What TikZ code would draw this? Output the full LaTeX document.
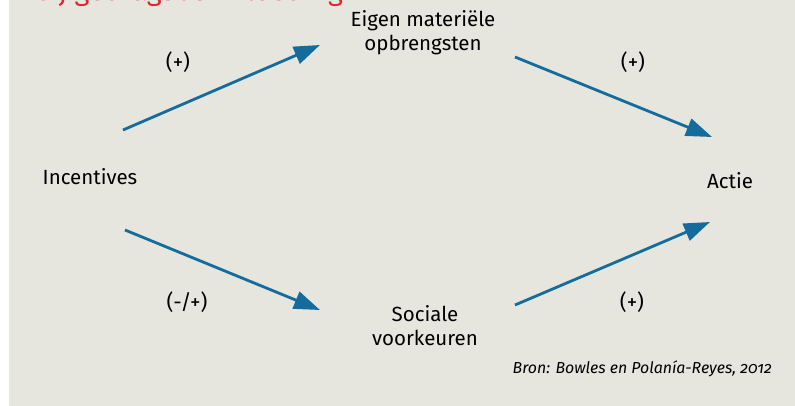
\documentclass[tikz,border=0pt]{standalone}
\usepackage{fontspec}
\setmainfont{Fira Sans}
\usetikzlibrary{arrows.meta}
\definecolor{paper}{RGB}{231,230,222}
\definecolor{flowblue}{RGB}{20,108,156}
\definecolor{titlered}{RGB}{228,35,52}
\begin{document}
\begin{tikzpicture}[x=1pt,y=-1pt]
    \tikzstyle{factor}=[font=\fontsize{20.5}{24}\selectfont,align=center,inner sep=0pt]
    \tikzstyle{sign}=[font=\fontsize{21}{24}\selectfont,inner sep=0pt]
    \tikzstyle{flow}=[line width=2.8pt,flowblue,-{Triangle[length=26pt,width=18pt]}]
    \clip (0,0) rectangle (795,406);
    \fill[white] (0,0) rectangle (795,406);
    \fill[paper] (9,0) rectangle (795,406);
    \node (title)[titlered,anchor=base west,inner sep=0pt,font=\fontsize{28.5}{32}\selectfont] at (34,1) {bij gedragsbeïnvloeding};
    % factoren
    \node (inc)[factor,anchor=base] at (90,185) {Incentives};
    \node (eig)[factor,anchor=base] at (423,51) {Eigen materiële\\opbrengsten};
    \node (soc)[factor,anchor=base] at (425,345) {Sociale\\voorkeuren};
    \node (act)[factor,anchor=base] at (730,189) {Actie};
    % tekens
    \node (s1)[sign] at (178,62) {(+)};
    \node (s2)[sign] at (633,62) {(+)};
    \node (s3)[sign] at (187,302) {(-/+)};
    \node (s4)[sign] at (632,302) {(+)};
    \node (bron)[anchor=base east,inner sep=0pt,font=\itshape\fontsize{15.9}{18}\selectfont] at (772,373) {Bron: Bowles en Polanía-Reyes, \oldstylenums{2012}};
    % pijlen
    \coordinate (inc1) at (123,130);
    \coordinate (eig1) at (320,45);
    \coordinate (eig2) at (515,57);
    \coordinate (act1) at (712,137);
    \coordinate (inc2) at (125,230);
    \coordinate (soc1) at (320,310);
    \coordinate (soc2) at (515,305);
    \coordinate (act2) at (710,222);
    \draw [flow] (inc1) -- (eig1);
    \draw [flow] (eig2) -- (act1);
    \draw [flow] (inc2) -- (soc1);
    \draw [flow] (soc2) -- (act2);
\end{tikzpicture}
\end{document}
